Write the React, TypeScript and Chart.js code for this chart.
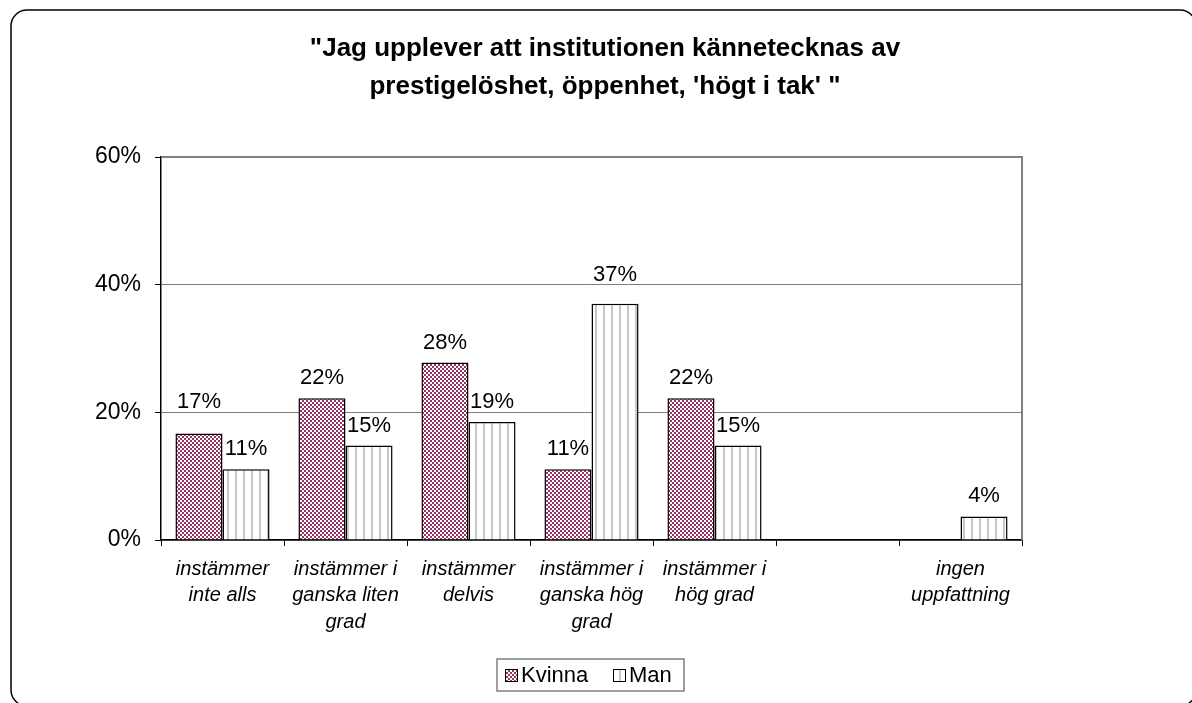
import React, { useEffect, useRef } from "react";
import { Chart, registerables } from "chart.js";

Chart.register(...registerables);

const TITLE_LINES = ["\"Jag upplever att institutionen kännetecknas av", "prestigelöshet, öppenhet, 'högt i tak' \""];
const CATEGORIES: string[][] = [
  ["instämmer", "inte alls"],
  ["instämmer i", "ganska liten", "grad"],
  ["instämmer", "delvis"],
  ["instämmer i", "ganska hög", "grad"],
  ["instämmer i", "hög grad"],
  [""],
  ["ingen", "uppfattning"],
];
const KVINNA: (number | null)[] = [16.7, 22.2, 27.8, 11.1, 22.2, null, null];
const MAN: (number | null)[] = [11.1, 14.8, 18.5, 37.0, 14.8, null, 3.7];
const SERIES_NAMES = ["Kvinna", "Man"];
const Y_TICKS = [0, 20, 40, 60];

const FONT = 'Arial, "Liberation Sans", sans-serif';

function makeChecker(): CanvasPattern | string {
  const c = document.createElement("canvas");
  c.width = 4;
  c.height = 4;
  const g = c.getContext("2d")!;
  g.fillStyle = "#993366";
  g.fillRect(0, 0, 4, 4);
  g.fillStyle = "#ffffff";
  g.fillRect(0, 0, 2, 2);
  g.fillRect(2, 2, 2, 2);
  return g.createPattern(c, "repeat") || "#993366";
}

function makeStripes(): CanvasPattern | string {
  const c = document.createElement("canvas");
  c.width = 8;
  c.height = 4;
  const g = c.getContext("2d")!;
  g.fillStyle = "#ffffff";
  g.fillRect(0, 0, 8, 4);
  g.fillStyle = "#c8c8c8";
  g.fillRect(3, 0, 2, 4);
  return g.createPattern(c, "repeat") || "#eeeeee";
}

export default function App() {
  const ref = useRef<HTMLCanvasElement | null>(null);
  useEffect(() => {
    if (!ref.current) return;
    const checker = makeChecker();
    const stripes = makeStripes();
    const fills = [checker, stripes];

    const decor = {
      id: "decor",
      beforeDraw(chart: any) {
        const ctx = chart.ctx;
        ctx.save();
        ctx.fillStyle = "#ffffff";
        ctx.fillRect(0, 0, chart.width, chart.height);
        ctx.strokeStyle = "#000";
        ctx.lineWidth = 1.5;
        const x0 = 11, y0 = 10, x1 = 1196, y1 = 706, r = 16;
        ctx.beginPath();
        ctx.moveTo(x0 + r, y0);
        ctx.lineTo(x1 - r, y0);
        ctx.arcTo(x1, y0, x1, y0 + r, r);
        ctx.lineTo(x1, y1 - r);
        ctx.arcTo(x1, y1, x1 - r, y1, r);
        ctx.lineTo(x0 + r, y1);
        ctx.arcTo(x0, y1, x0, y1 - r, r);
        ctx.lineTo(x0, y0 + r);
        ctx.arcTo(x0, y0, x0 + r, y0, r);
        ctx.stroke();
        ctx.fillStyle = "#000";
        ctx.font = `bold 26px ${FONT}`;
        ctx.textAlign = "center";
        ctx.textBaseline = "middle";
        TITLE_LINES.forEach((t, i) => ctx.fillText(t, 605, 49 + i * 38));
        ctx.restore();
      },
      afterDraw(chart: any) {
        const ctx = chart.ctx;
        const a = chart.chartArea;
        const yScale = chart.scales.y;
        const gridYs = Y_TICKS.map((v) => yScale.getPixelForValue(v));
        ctx.save();
        ctx.strokeStyle = "#808080";
        ctx.lineWidth = 2;
        ctx.beginPath();
        ctx.moveTo(a.left, a.top);
        ctx.lineTo(a.right, a.top);
        ctx.lineTo(a.right, a.bottom);
        ctx.stroke();
        // data labels (kept clear of gridlines)
        ctx.fillStyle = "#000";
        ctx.font = `22px ${FONT}`;
        ctx.textAlign = "center";
        ctx.textBaseline = "alphabetic";
        chart.data.datasets.forEach((ds: any, di: number) => {
          const meta = chart.getDatasetMeta(di);
          meta.data.forEach((el: any, i: number) => {
            const v = ds.data[i];
            if (v === null || v === undefined) return;
            let base = el.y - 14;
            const top = base - 16;
            for (const gy of gridYs) {
              if (gy >= top - 1 && gy <= base + 3) base = gy - 4;
            }
            ctx.fillText(Math.round(v) + "%", el.x, base);
          });
        });
        // legend
        const lx = 497, ly = 659, lw = 187, lh = 32;
        ctx.strokeStyle = "#808080";
        ctx.lineWidth = 1.5;
        ctx.strokeRect(lx, ly, lw, lh);
        ctx.font = `22px ${FONT}`;
        ctx.textAlign = "left";
        ctx.textBaseline = "middle";
        const items = [
          { x: 505, tx: 521 },
          { x: 613, tx: 629 },
        ];
        items.forEach((it, i) => {
          ctx.fillStyle = fills[i];
          ctx.fillRect(it.x, ly + 10, 12, 12);
          ctx.strokeStyle = "#000";
          ctx.lineWidth = 1;
          ctx.strokeRect(it.x + 0.5, ly + 10.5, 12, 12);
          ctx.fillStyle = "#000";
          ctx.fillText(SERIES_NAMES[i], it.tx, ly + lh / 2 + 1);
        });
        ctx.restore();
      },
    };

    const chart = new Chart(ref.current, {
      type: "bar",
      data: {
        labels: CATEGORIES,
        datasets: [
          {
            label: SERIES_NAMES[0],
            data: KVINNA,
            backgroundColor: checker as any,
            borderColor: "#000",
            borderWidth: 1.5,
            barPercentage: 1,
            categoryPercentage: 0.765,
          },
          {
            label: SERIES_NAMES[1],
            data: MAN,
            backgroundColor: stripes as any,
            borderColor: "#000",
            borderWidth: 1.5,
            barPercentage: 1,
            categoryPercentage: 0.765,
          },
        ],
      },
      options: {
        responsive: false,
        animation: false,
        layout: { padding: { top: 157, left: 0, right: 1192 - 1022, bottom: 0 } },
        plugins: {
          legend: { display: false },
          title: { display: false },
          tooltip: { enabled: false },
        },
        scales: {
          x: {
            offset: true,
            grid: {
              offset: true,
              drawOnChartArea: false,
              drawTicks: true,
              tickLength: 6,
              tickColor: "#000",
              color: "#000",
            },
            border: { color: "#000", width: 1.5 },
            ticks: {
              color: "#000",
              padding: 10,
              maxRotation: 0,
              autoSkip: false,
              font: { family: FONT, size: 20, style: "italic", lineHeight: 1.33 },
            },
            afterFit(scale: any) {
              scale.height = 703 - 540;
            },
          },
          y: {
            min: 0,
            max: 60,
            afterBuildTicks(scale: any) {
              scale.ticks = Y_TICKS.map((v) => ({ value: v }));
            },
            grid: {
              color: "#808080",
              lineWidth: 1,
              tickLength: 6,
              tickColor: "#000",
            },
            border: { color: "#000", width: 1.5 },
            ticks: {
              color: "#000",
              padding: 14,
              font: { family: FONT, size: 23 },
              callback: (v: any) => v + "%",
            },
            afterFit(scale: any) {
              scale.width = 161;
            },
          },
        },
      } as any,
      plugins: [decor],
    });
    return () => chart.destroy();
  }, []);

  return (
    <div style={{ position: "absolute", left: 0, top: 0, width: 1192, height: 703 }}>
      <canvas ref={ref} width={1192} height={703} style={{ width: 1192, height: 703, display: "block" }} />
    </div>
  );
}
